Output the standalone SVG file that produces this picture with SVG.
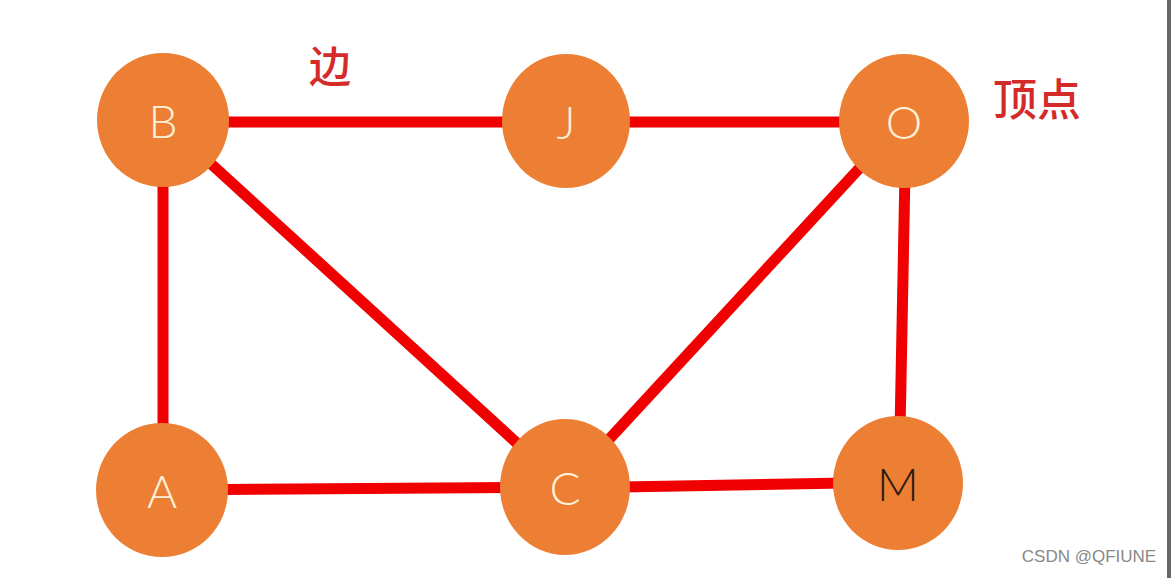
<svg xmlns="http://www.w3.org/2000/svg" width="1171" height="578" viewBox="0 0 1171 578">
<style>
.edge{stroke:#f00000;stroke-width:11;fill:none}
.node{fill:#ec7f34}
.lbl{font-family:"Lato","Liberation Sans",sans-serif;font-weight:300;font-size:46px;fill:#fff1d8;text-anchor:middle}
.dark{fill:#2a1a10}
.cn{font-family:"Noto Sans CJK SC","Noto Sans",sans-serif;fill:#d42a2a;font-weight:500}
</style>
<rect width="1171" height="578" fill="#fff"/>
<rect x="1167" y="0" width="4" height="578" fill="#666"/>
<g id="connectors">
<line class="edge" x1="163" y1="122" x2="566" y2="122"/>
<line class="edge" x1="566" y1="122" x2="904" y2="122"/>
<line class="edge" x1="163" y1="120" x2="163" y2="490"/>
<line class="edge" x1="163" y1="120" x2="565" y2="487"/>
<line class="edge" x1="904" y1="120" x2="565" y2="487"/>
<line class="edge" x1="906" y1="120" x2="899" y2="484"/>
<line class="edge" x1="163" y1="490" x2="565" y2="487"/>
<line class="edge" x1="565" y1="488" x2="899" y2="482"/>
</g>
<g id="node-B"><ellipse class="node" cx="163" cy="120" rx="66" ry="67"/><text class="lbl" x="163" y="138">B</text></g>
<g id="node-J"><ellipse class="node" cx="566" cy="121" rx="64" ry="67"/><text class="lbl" x="566" y="139">J</text></g>
<g id="node-O"><ellipse class="node" cx="904" cy="121" rx="65" ry="67"/><text class="lbl" x="904" y="139">O</text></g>
<g id="node-A"><ellipse class="node" cx="162" cy="490" rx="66" ry="67"/><text class="lbl" x="162" y="508">A</text></g>
<g id="node-C"><ellipse class="node" cx="565" cy="487" rx="65" ry="68"/><text class="lbl" x="565" y="505">C</text></g>
<g id="node-M"><ellipse class="node" cx="898" cy="483" rx="65" ry="67"/><text class="lbl dark" x="898" y="501">M</text></g>
<text class="cn" x="330" y="82" font-size="42" text-anchor="middle">边</text>
<text class="cn" x="1037" y="116" font-size="44" font-weight="bold" text-anchor="middle">顶点</text>
<text x="1089" y="562" font-family="Liberation Sans,sans-serif" font-size="17" fill="#888" text-anchor="middle">CSDN @QFIUNE</text>
</svg>
